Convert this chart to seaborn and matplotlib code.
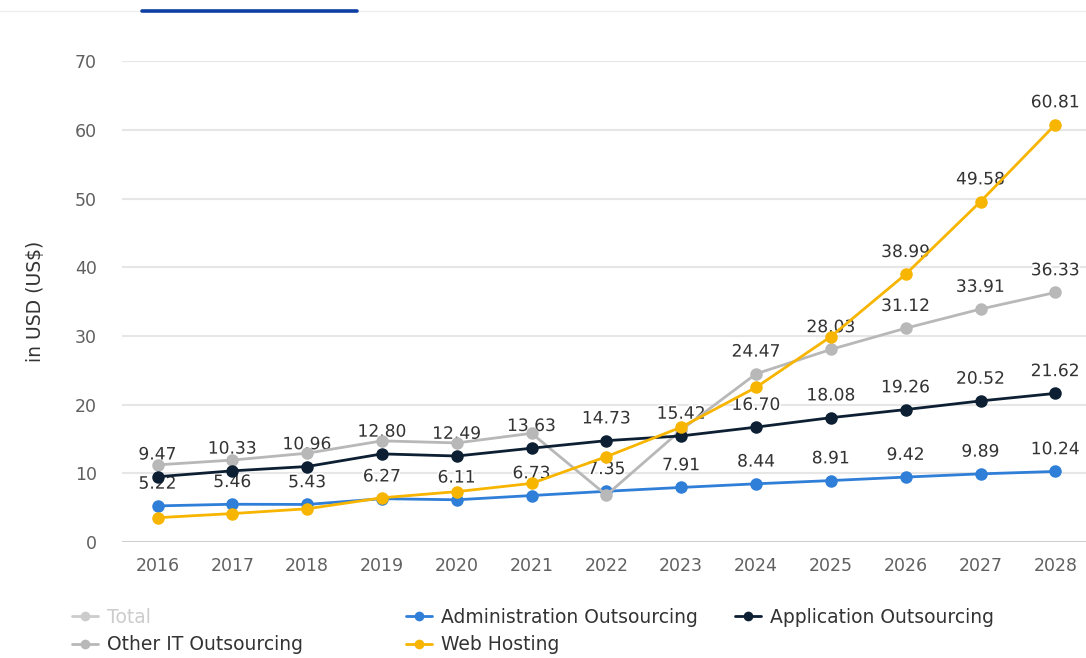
import matplotlib
matplotlib.use("Agg")
import matplotlib.pyplot as plt
from matplotlib.lines import Line2D
import matplotlib.patheffects as pe
import numpy as np
import pandas as pd
import seaborn as sns

# ---- data ----
years = [2016, 2017, 2018, 2019, 2020, 2021, 2022, 2023, 2024, 2025, 2026, 2027, 2028]
admin_outsourcing = [5.22, 5.46, 5.43, 6.27, 6.11, 6.73, 7.35, 7.91, 8.44, 8.91, 9.42, 9.89, 10.24]
application_outsourcing = [9.47, 10.33, 10.96, 12.80, 12.49, 13.63, 14.73, 15.42, 16.70, 18.08, 19.26, 20.52, 21.62]
other_it_outsourcing = [11.2, 11.9, 12.9, 14.7, 14.4, 15.8, 6.8, 16.3, 24.47, 28.03, 31.12, 33.91, 36.33]
web_hosting = [3.5, 4.1, 4.8, 6.4, 7.3, 8.5, 12.4, 16.7, 22.5, 29.9, 38.99, 49.58, 60.81]

# years that carry a value label, per series
admin_labelled = years
application_labelled = years
other_it_labelled = [2024, 2025, 2026, 2027, 2028]
web_labelled = [2026, 2027, 2028]

y_ticks = [0, 10, 20, 30, 40, 50, 60, 70]
y_title = "in USD (US$)"

series_names = ["Administration Outsourcing", "Other IT Outsourcing",
                "Application Outsourcing", "Web Hosting"]
colors = {
    "Total": "#cccccc",
    "Administration Outsourcing": "#2f7ed8",
    "Application Outsourcing": "#0d1f33",
    "Other IT Outsourcing": "#b8b8b8",
    "Web Hosting": "#f7b500",
}

series_values = {
    "Administration Outsourcing": admin_outsourcing,
    "Other IT Outsourcing": other_it_outsourcing,
    "Application Outsourcing": application_outsourcing,
    "Web Hosting": web_hosting,
}
frames = [pd.DataFrame({"year": years, "value": series_values[n], "series": n})
          for n in series_names]
df = pd.concat(frames, ignore_index=True)

labelled = {
    "Administration Outsourcing": admin_labelled,
    "Application Outsourcing": application_labelled,
    "Other IT Outsourcing": other_it_labelled,
    "Web Hosting": web_labelled,
}

# ---- style ----
sns.set_theme(style="white")
plt.rcParams["font.family"] = ["DejaVu Sans"]

W, H = 1086, 658
fig = plt.figure(figsize=(W / 100, H / 100), dpi=100)
left_px, right_px, top_px, bottom_px = 122, 1086, 61.5, 541.7
ax = fig.add_axes([left_px / W, 1 - bottom_px / H,
                   (right_px - left_px) / W, (bottom_px - top_px) / H])

sns.lineplot(data=df, x="year", y="value", hue="series", hue_order=series_names,
             palette=colors, marker="o", markersize=9, markeredgewidth=0,
             linewidth=2.0, legend=False, ax=ax, zorder=3)
for line in ax.get_lines():
    line.set_clip_on(False)

# value labels sit just above their markers, beneath the lines
for name in series_names:
    for yr, v in zip(years, series_values[name]):
        if yr in labelled[name]:
            t = ax.annotate(f"{v:.2f}", (yr, v), xytext=(0, 16),
                            textcoords="offset points", ha="center", va="center",
                            fontsize=12.3, color="#333333", zorder=2)
            t.set_path_effects([pe.withStroke(linewidth=2.5, foreground="white")])

ax.set_xlim(2016 - 0.475, 2028 + 0.41)
ax.set_ylim(0, 70)
ax.set_xticks(years)
ax.set_xticklabels([str(y) for y in years])
ax.set_yticks(y_ticks)
ax.set_yticklabels([str(t) for t in y_ticks])
ax.tick_params(axis="both", length=0, labelsize=12.5, colors="#606060")
ax.tick_params(axis="y", pad=18)
ax.tick_params(axis="x", pad=11)
ax.set_xlabel("")
ax.set_ylabel(y_title, fontsize=13.5, color="#333333")
ax.yaxis.set_label_coords((45 - left_px) / (right_px - left_px), 0.5)

for s in ax.spines.values():
    s.set_visible(False)
ax.grid(False)
for t in y_ticks:
    ax.axhline(t, color="#cfcfcf" if t == 0 else "#e6e6e6", linewidth=1.5, zorder=0)

# top tab indicator
fig.add_artist(Line2D([0, 1], [1 - 10.5 / H] * 2, color="#eeeeee", linewidth=1.0))
fig.add_artist(Line2D([142 / W, 357 / W], [1 - 10.5 / H] * 2, color="#0e3fa3",
                      linewidth=2.6, solid_capstyle="round"))

# legend, three fixed-width columns
def handle(name):
    return Line2D([0], [0], color=colors[name], marker="o", markersize=7,
                  markeredgewidth=0, linewidth=2.0)

columns = [
    (["Total", "Other IT Outsourcing"], 72),
    (["Administration Outsourcing", "Web Hosting"], 406),
    (["Application Outsourcing"], 735),
]
for names, x_px in columns:
    leg = fig.legend([handle(n) for n in names], names, loc="upper left",
                     bbox_to_anchor=(x_px / W, 1 - 608 / H), frameon=False,
                     fontsize=13.5, handlelength=1.4, handletextpad=0.45,
                     labelspacing=0.45, borderaxespad=0, borderpad=0)
    for txt, n in zip(leg.get_texts(), names):
        txt.set_color("#cccccc" if n == "Total" else "#333333")

fig.savefig("out.png", dpi=100)
